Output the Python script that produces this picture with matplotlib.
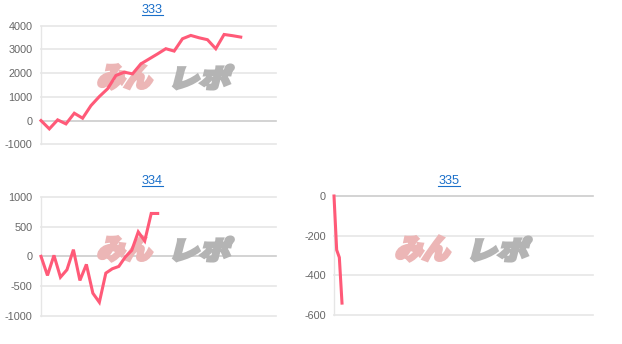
import numpy as np
import matplotlib
matplotlib.use("Agg")
import matplotlib.pyplot as plt
from matplotlib.textpath import TextPath
from matplotlib.patches import PathPatch
from matplotlib.font_manager import FontProperties
from matplotlib.transforms import Affine2D
from matplotlib.lines import Line2D

# data
titles = ["333", "334", "335"]
vals_333 = [0, -350, 30, -140, 310, 100, 630, 1010, 1340, 1900, 2040, 1970, 2390,
            2600, 2810, 3030, 2930, 3450, 3590, 3490, 3410, 3030, 3630, 3580, 3520]
vals_334 = [0, -320, 17, -350, -225, 112, -404, -135, -618, -770, -281, -208, -169,
            -11, 101, 410, 258, 719, 719]
vals_335 = [0, -272, -310, -540]
ticks_333 = [-1000, 0, 1000, 2000, 3000, 4000]
ticks_334 = [-1000, -500, 0, 500, 1000]
ticks_335 = [-600, -400, -200, 0]

W, H = 622, 344
LINE = "#ff5a78"
GRID = "#e6e6e6"
ZERO = "#cccccc"
TICK = "#666666"
LINK = "#1a6fc9"

plt.rcParams["font.family"] = ["Liberation Sans", "DejaVu Sans"]

fig = plt.figure(figsize=(W / 100, H / 100), dpi=100)
fig.patch.set_facecolor("white")


def px_axes(left, top, right, bottom):
    return fig.add_axes([left / W, 1 - bottom / H, (right - left) / W, (bottom - top) / H])


def style(ax, vals, ticks, xmax):
    x = np.arange(len(vals))
    ax.plot(x, vals, color=LINE, lw=2.2, solid_joinstyle="miter", zorder=3, clip_on=False)
    ax.set_xlim(0, xmax)
    ax.set_ylim(ticks[0], ticks[-1])
    ax.set_yticks(ticks)
    ax.set_yticklabels([str(t) for t in ticks])
    ax.set_xticks([])
    ax.set_facecolor("none")
    for t in ticks:
        ax.axhline(t, color=ZERO if t == 0 else GRID, lw=1.2, zorder=0.5, clip_on=False)
    for s in ["top", "right", "bottom"]:
        ax.spines[s].set_visible(False)
    ax.spines["left"].set_color(GRID)
    ax.spines["left"].set_linewidth(1)
    ax.tick_params(axis="y", length=0, pad=6, labelsize=7.8, labelcolor=TICK)


ax1 = px_axes(41, 25.7, 275.7, 144.3)
style(ax1, vals_333, ticks_333, 28.2)
ax2 = px_axes(41, 196.7, 275.7, 316)
style(ax2, vals_334, ticks_334, 36.2)
ax3 = px_axes(334, 196, 592.7, 315)
style(ax3, vals_335, ticks_335, 97)

# watermark
fp = FontProperties(family=["Noto Sans CJK JP"], weight="heavy")
slant = np.tan(np.radians(14))


def mark_part(ax, text, x0, x1, ytop, ybot, color):
    path = TextPath((0, 0), text, size=40, prop=fp)
    ext = path.get_extents()
    h = ybot - ytop - 2
    w = (x1 - x0) - slant * h - 2
    tr = (Affine2D().translate(-ext.x0, -ext.y0)
          .scale(w / ext.width, h / ext.height)
          .skew(slant, 0)
          .translate(x0 + 1, H - ybot + 1))
    p = PathPatch(path, transform=tr, facecolor=color, edgecolor=color, lw=2.2,
                  joinstyle="miter", zorder=1.5, clip_on=False)
    ax.add_artist(p)


def watermark(ax, x0, ytop):
    mark_part(ax, "みん", x0, x0 + 61, ytop, ytop + 27, "#ecb6b6")
    mark_part(ax, "レポ", x0 + 76, x0 + 139, ytop + 1, ytop + 27, "#b4b4b4")


watermark(ax1, 96, 63)
watermark(ax2, 96, 235)
watermark(ax3, 394, 235)

# titles as underlined links
title_pos = [(152, 10), (152, 181), (449, 181)]
texts = []
for t, (cx, cy) in zip(titles, title_pos):
    texts.append(fig.text(cx / W, 1 - cy / H, t, ha="center", va="center",
                          fontsize=9.2, color=LINK))

fig.canvas.draw()
r = fig.canvas.get_renderer()
for tx in texts:
    bb = tx.get_window_extent(r)
    y = bb.y0 + 1
    fig.add_artist(Line2D([bb.x0, bb.x1], [y, y], transform=None, color=LINK, lw=0.8))

fig.savefig("out.png", dpi=100, facecolor="white")
